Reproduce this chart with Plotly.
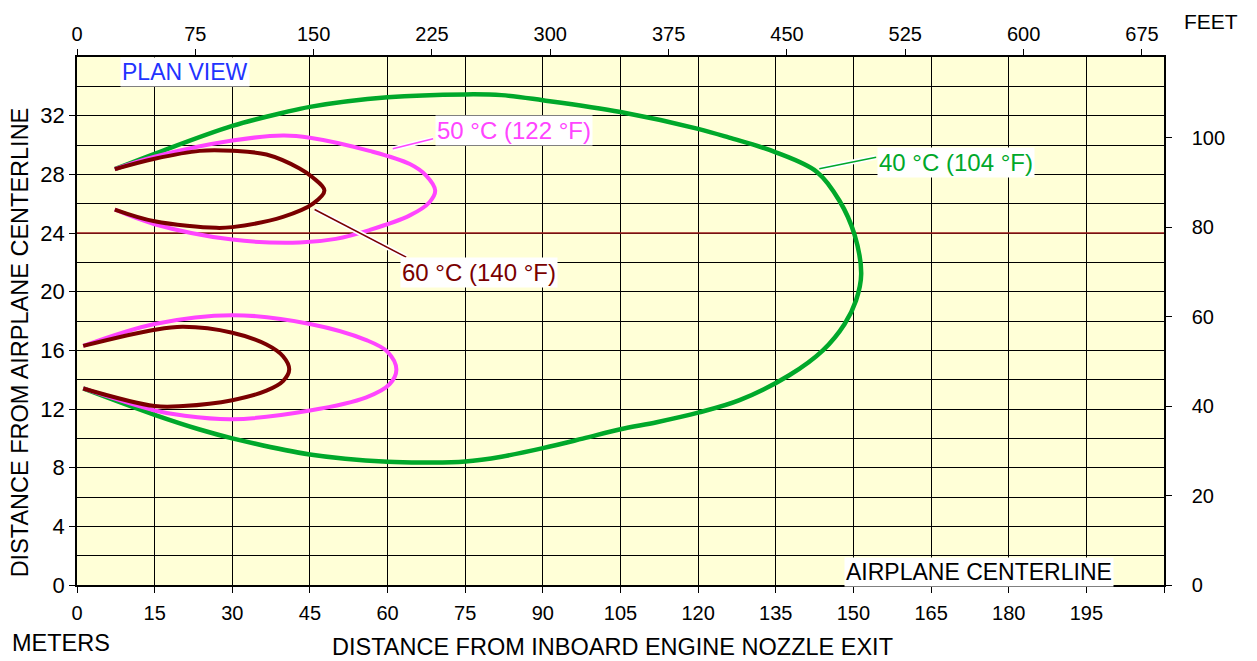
import plotly.graph_objects as go

FT_PER_M = 3.28084

# ---- data (meters) ----
green_x = [7.3, 15, 30, 39.8, 45, 60, 75, 82, 90, 105, 120, 126, 135, 143, 147.3, 150.2, 151.5,
           150.5, 148.3, 144.1, 137.6, 128, 120, 112, 105, 97.7, 90, 82, 75, 68, 60, 45, 30, 23.7, 15, 1.2]
green_y = [28.35, 29.4, 31.3, 32.2, 32.6, 33.25, 33.45, 33.4, 33.05, 32.25, 31.1, 30.5, 29.5, 28.15, 26.2, 23.9, 21.2,
           19.4, 17.8, 16.0, 14.3, 12.6, 11.75, 11.1, 10.62, 9.98, 9.33, 8.75, 8.42, 8.35, 8.4, 8.9, 10.0, 10.6, 11.6, 13.4]

pink_up_x = [7.3, 15, 30, 39.8, 45, 56.5, 64.3, 67.5, 69.2, 68.1, 64.3, 56.5, 50, 43, 30, 15, 7.3]
pink_up_y = [28.35, 29.2, 30.3, 30.65, 30.5, 29.6, 28.7, 27.9, 26.9, 26.1, 25.2, 24.2, 23.6, 23.35, 23.55, 24.6, 25.6]

pink_lo_x = [1.2, 15, 30, 45, 55.9, 60, 61.7, 60.4, 55.9, 45, 30, 20.5, 15, 1.2]
pink_lo_y = [16.3, 17.8, 18.4, 17.8, 16.7, 15.9, 14.7, 13.7, 12.8, 11.9, 11.3, 11.55, 11.9, 13.4]

red_up_x = [7.3, 15, 23.7, 30.1, 36.6, 43, 45.5, 47.8, 45.6, 39.8, 30, 26.9, 15, 7.3]
red_up_y = [28.35, 29.06, 29.6, 29.6, 29.35, 28.4, 27.8, 26.9, 26.0, 25.1, 24.4, 24.35, 24.8, 25.6]

red_lo_x = [1.2, 15, 20.5, 30, 36.6, 39.8, 41, 39.8, 36.6, 30, 20.5, 15, 1.2]
red_lo_y = [16.3, 17.4, 17.6, 17.2, 16.4, 15.6, 14.7, 13.9, 13.25, 12.6, 12.2, 12.2, 13.4]

x_ticks_m = list(range(0, 211, 15))
y_ticks_m = list(range(0, 33, 4))
x_ticks_ft = list(range(0, 676, 75))
y_ticks_ft = list(range(0, 101, 20))

GREEN = "#00A82A"
PINK = "#FF45FF"
DRED = "#7A0000"
FONT = "Liberation Sans, Arial, sans-serif"

fig = go.Figure()

for xs, ys, col, w in [
    (green_x, green_y, GREEN, 4.5),
    (pink_up_x, pink_up_y, PINK, 4),
    (pink_lo_x, pink_lo_y, PINK, 4),
    (red_up_x, red_up_y, DRED, 4),
    (red_lo_x, red_lo_y, DRED, 4),
]:
    fig.add_trace(go.Scatter(x=xs, y=ys, mode="lines",
                             line=dict(color=col, width=w, shape="spline", smoothing=1.0),
                             hoverinfo="skip", showlegend=False))

# dummy trace for the feet axes
fig.add_trace(go.Scatter(x=[0, 210 * FT_PER_M], y=[0, 36 * FT_PER_M], xaxis="x2", yaxis="y2",
                         mode="markers", marker=dict(opacity=0), hoverinfo="skip", showlegend=False))

axis_common = dict(ticks="outside", ticklen=6, tickcolor="black", tickwidth=1.3,
                   showline=True, linecolor="black", linewidth=1.5, zeroline=False,
                   tickfont=dict(size=20, color="black", family=FONT))

fig.update_layout(
    width=1249, height=653,
    margin=dict(l=69, r=93, t=49, b=76),
    paper_bgcolor="white", plot_bgcolor="#FFFFD7",
    font=dict(family=FONT, color="black"),
    xaxis=dict(range=[0, 210], tickvals=x_ticks_m,
               ticktext=[str(v) if v < 210 else "" for v in x_ticks_m],
               showgrid=True, gridcolor="#000", gridwidth=1.2, mirror=True,
               ticklabelstandoff=3, **axis_common),
    yaxis=dict(range=[0, 36], tickvals=y_ticks_m, showgrid=True, gridcolor="#000", gridwidth=1.2,
               minor=dict(dtick=2, showgrid=True, gridcolor="#000", gridwidth=1.2),
               mirror=True, **{**axis_common, "tickfont": dict(size=22, color="black", family=FONT)}),
    xaxis2=dict(range=[0, 210 * FT_PER_M], tickvals=x_ticks_ft, overlaying="x", side="top",
                anchor="y2", showgrid=False, **axis_common),
    yaxis2=dict(range=[0, 36 * FT_PER_M], tickvals=y_ticks_ft, overlaying="y", side="right",
                anchor="x2", showgrid=False, ticklabelstandoff=16, **axis_common),
)

# engine centerline (red line at 24 m)
fig.add_shape(type="line", xref="x", yref="y", x0=0, x1=210, y0=24, y1=24,
              line=dict(color="#9A1A1A", width=1.6), layer="between")

# leader lines
leaders = [
    ((61.0, 29.74), (68.8, 30.42), PINK),
    ((45.9, 25.6), (63.6, 22.35), DRED),
    ((143.4, 28.38), (154.4, 29.17), GREEN),
]
for (x0, y0), (x1, y1), col in leaders:
    fig.add_shape(type="line", xref="x", yref="y", x0=x0, y0=y0, x1=x1, y1=y1,
                  line=dict(color="white", width=5), layer="above")
    fig.add_shape(type="line", xref="x", yref="y", x0=x0, y0=y0, x1=x1, y1=y1,
                  line=dict(color=col, width=1.5), layer="above")

labels = [
    ("50 °C (122 °F)", 84.4, 31.0, PINK, 24),
    ("60 °C (140 °F)", 77.6, 21.3, DRED, 24),
    ("40 °C (104 °F)", 169.9, 28.8, GREEN, 24),
    ("PLAN VIEW", 20.95, 34.95, "#2233FF", 23),
    ("AIRPLANE CENTERLINE", 174.3, 0.86, "black", 23),
]
for txt, x, y, col, sz in labels:
    fig.add_annotation(text=txt, x=x, y=y, xref="x", yref="y", showarrow=False,
                       xanchor="center", yanchor="middle",
                       font=dict(size=sz, color=col, family=FONT), bgcolor="white", borderpad=1)

titles = [
    ("DISTANCE FROM INBOARD ENGINE NOZZLE EXIT", 0.4928, -0.117, 0, 23.5),
    ("METERS", -0.015, -0.109, 0, 23.5),
    ("FEET", 1.0434, 1.0677, 0, 21),
    ("DISTANCE FROM AIRPLANE CENTERLINE", -0.0527, 0.459, -90, 23.5),
]
for txt, x, y, ang, sz in titles:
    fig.add_annotation(text=txt, x=x, y=y, xref="paper", yref="paper", showarrow=False,
                       xanchor="center", yanchor="middle", textangle=ang, borderpad=0,
                       font=dict(size=sz, color="black", family=FONT))

fig.write_html("out.html")
